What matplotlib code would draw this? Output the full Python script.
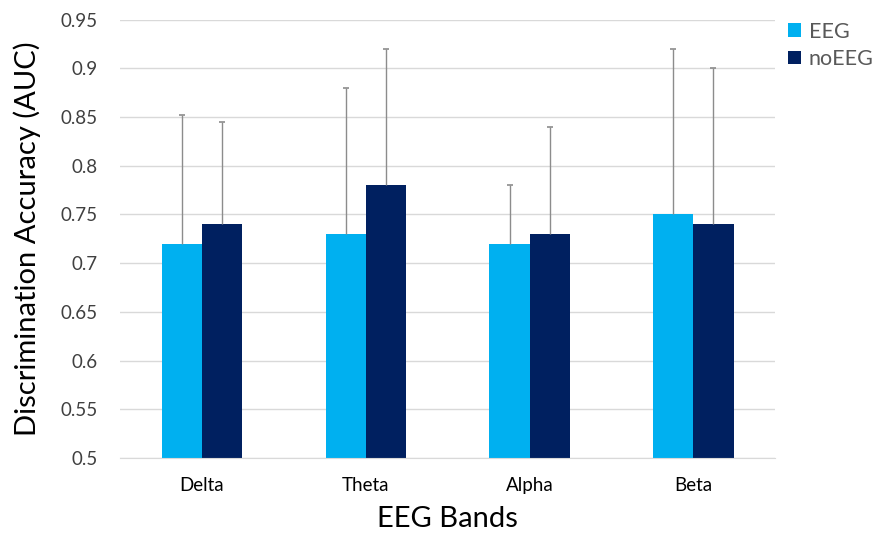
import matplotlib
matplotlib.use("Agg")
import matplotlib.pyplot as plt
import numpy as np

categories = ["Delta", "Theta", "Alpha", "Beta"]
eeg = [0.72, 0.73, 0.72, 0.75]
noeeg = [0.74, 0.78, 0.73, 0.74]
eeg_err = [0.132, 0.15, 0.06, 0.17]
noeeg_err = [0.105, 0.14, 0.11, 0.16]
yticks = [0.5, 0.55, 0.6, 0.65, 0.7, 0.75, 0.8, 0.85, 0.9, 0.95]
ytick_labels = ["0.5", "0.55", "0.6", "0.65", "0.7", "0.75", "0.8", "0.85", "0.9", "0.95"]

plt.rcParams['font.family'] = ['Lato', 'DejaVu Sans']

fig = plt.figure(figsize=(8.83, 5.33), dpi=100)
ax = fig.add_axes([0.136, 0.1407, 0.742, 0.8227])

x = np.arange(len(categories))
w = 0.245
base = 0.5
ecol = "#8c8c8c"
ax.bar(x - w/2, np.array(eeg) - base, w, bottom=base, color="#00B0F0", label="EEG", zorder=2)
ax.bar(x + w/2, np.array(noeeg) - base, w, bottom=base, color="#002060", label="noEEG", zorder=2)
for xs, vals, errs in [(x - w/2, eeg, eeg_err), (x + w/2, noeeg, noeeg_err)]:
    tops = np.array(vals) + np.array(errs)
    ax.vlines(xs, vals, tops, color=ecol, linewidth=1.0, zorder=3)
    ax.plot(xs, tops, linestyle="none", marker="_", markersize=5, markeredgewidth=1.2,
            color=ecol, zorder=3)

ax.set_ylim(0.5, 0.95)
ax.set_xlim(-0.5, 3.5)
ax.set_yticks(yticks)
ax.set_yticklabels(ytick_labels, fontsize=13.5, color="#404040")
ax.set_xticks(x)
ax.set_xticklabels(categories, fontsize=13.5, color="#000000")
ax.tick_params(axis="y", length=0, pad=16)
ax.tick_params(axis="x", length=0, pad=14)
ax.yaxis.grid(True, color="#d9d9d9", linewidth=1.0, zorder=0)
ax.set_axisbelow(True)
for s in ["top", "right", "left"]:
    ax.spines[s].set_visible(False)
ax.spines["bottom"].set_color("#d9d9d9")

ax.set_ylabel("Discrimination Accuracy (AUC)", fontsize=21, color="#000000", labelpad=14)
ax.set_xlabel("EEG Bands", fontsize=21, color="#000000", labelpad=8)

leg = ax.legend(loc="upper left", bbox_to_anchor=(1.02, 0.995), frameon=False,
                fontsize=15.5, handlelength=0.6, handleheight=0.6, handletextpad=0.35,
                labelspacing=0.35, borderpad=0, borderaxespad=0)
for t in leg.get_texts():
    t.set_color("#595959")

fig.savefig("out.png", dpi=100)
